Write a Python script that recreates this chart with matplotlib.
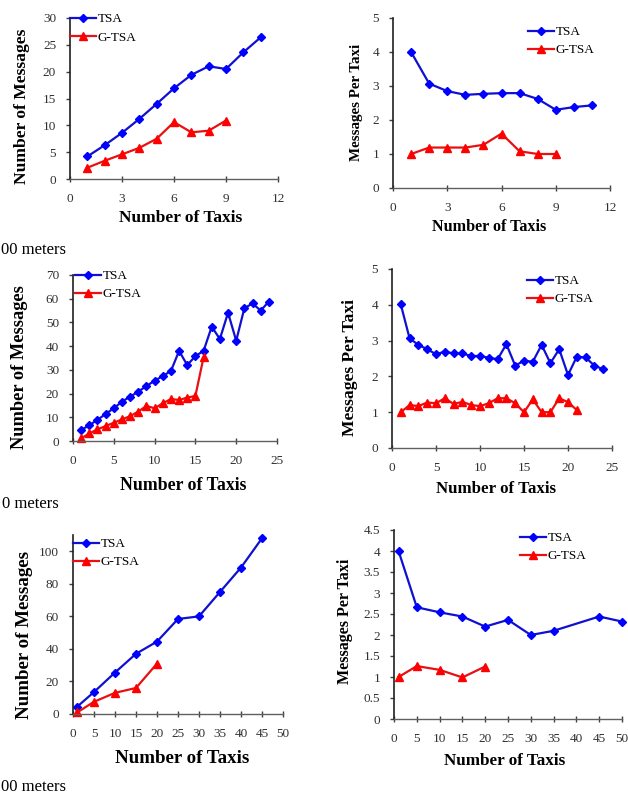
import numpy as np
import matplotlib
matplotlib.use("Agg")
import matplotlib.pyplot as plt
from matplotlib.ticker import MultipleLocator, FuncFormatter

plt.rcParams['font.family'] = ['Liberation Serif', 'DejaVu Serif']

# -------------------------------------------------
# dados
# -------------------------------------------------

# linha 1
r1_taxis_tsa = [1, 2, 3, 4, 5, 6, 7, 8, 9, 10, 11]
r1_msgs_tsa = [4.2, 6.3, 8.6, 11.2, 14.0, 16.9, 19.4, 21.0, 20.5, 23.6, 26.4]
r1_taxis_gtsa = [1, 2, 3, 4, 5, 6, 7, 8, 9]
r1_msgs_gtsa = [2.1, 3.4, 4.6, 5.8, 7.5, 10.6, 8.7, 9.0, 10.9]
r1_per_tsa = [4.0, 3.07, 2.85, 2.74, 2.77, 2.79, 2.79, 2.62, 2.3, 2.38, 2.43]
r1_per_gtsa = [1.0, 1.19, 1.19, 1.19, 1.27, 1.6, 1.08, 1.0, 1.0]

# linha 2
r2_taxis_tsa = list(range(1, 25))
r2_msgs_tsa = [4.6, 6.7, 8.9, 11.4, 13.8, 16.6, 18.7, 20.8, 23.2, 25.4, 27.4, 29.5,
               38.0, 32.0, 35.8, 38.0, 48.2, 43.0, 54.1, 42.3, 56.0, 58.0, 55.0, 58.8]
r2_taxis_gtsa = list(range(1, 17))
r2_msgs_gtsa = [1.1, 3.2, 4.9, 6.3, 7.7, 9.1, 10.5, 12.4, 14.8, 13.8, 15.9, 17.7,
                17.3, 18.3, 19.0, 35.3]
r2_per_tsa = [4.01, 3.06, 2.88, 2.76, 2.62, 2.69, 2.64, 2.64, 2.57, 2.57, 2.52, 2.48,
              2.9, 2.3, 2.44, 2.41, 2.88, 2.37, 2.76, 2.04, 2.55, 2.53, 2.3, 2.2]
r2_taxis_gtsa_per = list(range(1, 22))
r2_per_gtsa = [1.0, 1.2, 1.17, 1.27, 1.25, 1.39, 1.23, 1.29, 1.2, 1.17, 1.25, 1.39,
               1.39, 1.25, 1.0, 1.36, 1.0, 1.0, 1.39, 1.28, 1.06]

# linha 3
r3_taxis_tsa = [1, 5, 10, 15, 20, 25, 30, 35, 40, 45]
r3_msgs_tsa = [4.5, 13.5, 25.5, 37.0, 44.5, 58.4, 60.0, 75.0, 90.0, 108.0]
r3_taxis_gtsa = [1, 5, 10, 15, 20]
r3_msgs_gtsa = [1.0, 7.5, 13.0, 16.0, 31.0]
r3_taxis_tsa_per = [1, 5, 10, 15, 20, 25, 30, 35, 45, 50]
r3_per_tsa = [4.0, 2.66, 2.54, 2.44, 2.2, 2.36, 2.0, 2.1, 2.44, 2.32]
r3_per_gtsa = [1.0, 1.26, 1.17, 0.99, 1.25]

series_names = ["TSA", "G-TSA"]
label_msgs = "Number of Messages"
label_per = "Messages Per Taxi"
label_x = "Number of Taxis"
captions = ["00 meters", "0 meters", "00 meters"]

# -------------------------------------------------
# layout (pixels da figura 628x795)
# -------------------------------------------------

W, H = 628, 795

panels = [
    dict(box=(70, 18, 278, 179), xlim=(0, 12), xstep=3, ylim=(0, 30), ystep=5,
         x_tsa=r1_taxis_tsa, y_tsa=r1_msgs_tsa, x_g=r1_taxis_gtsa, y_g=r1_msgs_gtsa,
         ylabel=label_msgs, leg=(0.0, 1.03), xl=(0.534, -0.19), yl=(-0.192, 0.453),
         xs=12.5, ys=12.6),
    dict(box=(393, 18, 610, 188), xlim=(0, 12), xstep=3, ylim=(0, 5), ystep=1,
         x_tsa=r1_taxis_tsa, y_tsa=r1_per_tsa, x_g=r1_taxis_gtsa, y_g=r1_per_gtsa,
         ylabel=label_per, leg=(0.622, 0.953), xl=(0.442, -0.18), yl=(-0.138, 0.506),
         xs=11.6, ys=10.8),
    dict(box=(73, 275, 277, 441), xlim=(0, 25), xstep=5, ylim=(0, 70), ystep=10,
         x_tsa=r2_taxis_tsa, y_tsa=r2_msgs_tsa, x_g=r2_taxis_gtsa, y_g=r2_msgs_gtsa,
         ylabel=label_msgs, leg=(0.01, 1.03), xl=(0.538, -0.217), yl=(-0.22, 0.443),
         xs=12.8, ys=13.2),
    dict(box=(392, 269, 612, 448), xlim=(0, 25), xstep=5, ylim=(0, 5), ystep=1,
         x_tsa=r2_taxis_tsa, y_tsa=r2_per_tsa, x_g=r2_taxis_gtsa_per, y_g=r2_per_gtsa,
         ylabel=label_per, leg=(0.614, 0.966), xl=(0.475, -0.185), yl=(-0.155, 0.45),
         xs=12.2, ys=12.6),
    dict(box=(73, 535, 283, 714), xlim=(0, 50), xstep=5, ylim=(0, 110), ystep=20,
         x_tsa=r3_taxis_tsa, y_tsa=r3_msgs_tsa, x_g=r3_taxis_gtsa, y_g=r3_msgs_gtsa,
         ylabel=label_msgs, leg=(0.0, 0.983), xl=(0.521, -0.201), yl=(-0.19, 0.441),
         xs=13.6, ys=13.6),
    dict(box=(394, 530, 622, 719), xlim=(0, 50), xstep=5, ylim=(0, 4.5), ystep=0.5,
         x_tsa=r3_taxis_tsa_per, y_tsa=r3_per_tsa, x_g=r3_taxis_gtsa, y_g=r3_per_gtsa,
         ylabel=label_per, leg=(0.553, 0.989), xl=(0.485, -0.18), yl=(-0.18, 0.516),
         xs=12.3, ys=11.6),
]

caption_pos = [(1, 254), (2, 508), (1, 791)]

BLUE = "#1010d0"
RED = "#e81010"


def fmt(v, pos):
    return f"{v:g}"


fig = plt.figure(figsize=(W / 100, H / 100), dpi=100)

for p in panels:
    x0, y0, x1, y1 = p["box"]
    ax = fig.add_axes([x0 / W, 1 - y1 / H, (x1 - x0) / W, (y1 - y0) / H])

    ax.plot(p["x_tsa"], p["y_tsa"], color=BLUE, lw=1.6, marker="D", ms=4.5,
            mfc="#0000ff", mec="#0000ff", label=series_names[0], clip_on=False)
    ax.plot(p["x_g"], p["y_g"], color=RED, lw=1.6, marker="^", ms=6,
            mfc="#ff0000", mec="#ff0000", label=series_names[1], clip_on=False)

    ax.set_xlim(*p["xlim"])
    ax.set_ylim(*p["ylim"])
    ax.xaxis.set_major_locator(MultipleLocator(p["xstep"]))
    ax.yaxis.set_major_locator(MultipleLocator(p["ystep"]))
    ax.xaxis.set_major_formatter(FuncFormatter(fmt))
    ax.yaxis.set_major_formatter(FuncFormatter(fmt))

    for s in ["top", "right"]:
        ax.spines[s].set_visible(False)
    ax.spines["left"].set_color("#202020")
    ax.spines["bottom"].set_color("#606060")
    ax.spines["left"].set_linewidth(1.2)
    ax.spines["bottom"].set_linewidth(1.0)

    ax.tick_params(axis="x", direction="inout", length=4, width=1, color="#404040",
                   labelsize=9.5, labelcolor="#303030", pad=8)
    ax.tick_params(axis="y", direction="out", length=3, width=1, color="#404040",
                   labelsize=9.5, labelcolor="#303030", pad=7)

    ax.set_xlabel(label_x, fontweight="bold", fontsize=p["xs"], va="top")
    ax.set_ylabel(p["ylabel"], fontweight="bold", fontsize=p["ys"])
    ax.xaxis.set_label_coords(*p["xl"])
    ax.yaxis.set_label_coords(*p["yl"])

    ax.legend(loc="upper left", bbox_to_anchor=p["leg"], frameon=False,
              fontsize=9.5, handlelength=2.0, handletextpad=0.1,
              labelspacing=0.45, borderpad=0, borderaxespad=0)

for text, (px, py) in zip(captions, caption_pos):
    fig.text(px / W, 1 - py / H, text, fontsize=12, ha="left", va="baseline")

fig.savefig("out.png", dpi=100)
